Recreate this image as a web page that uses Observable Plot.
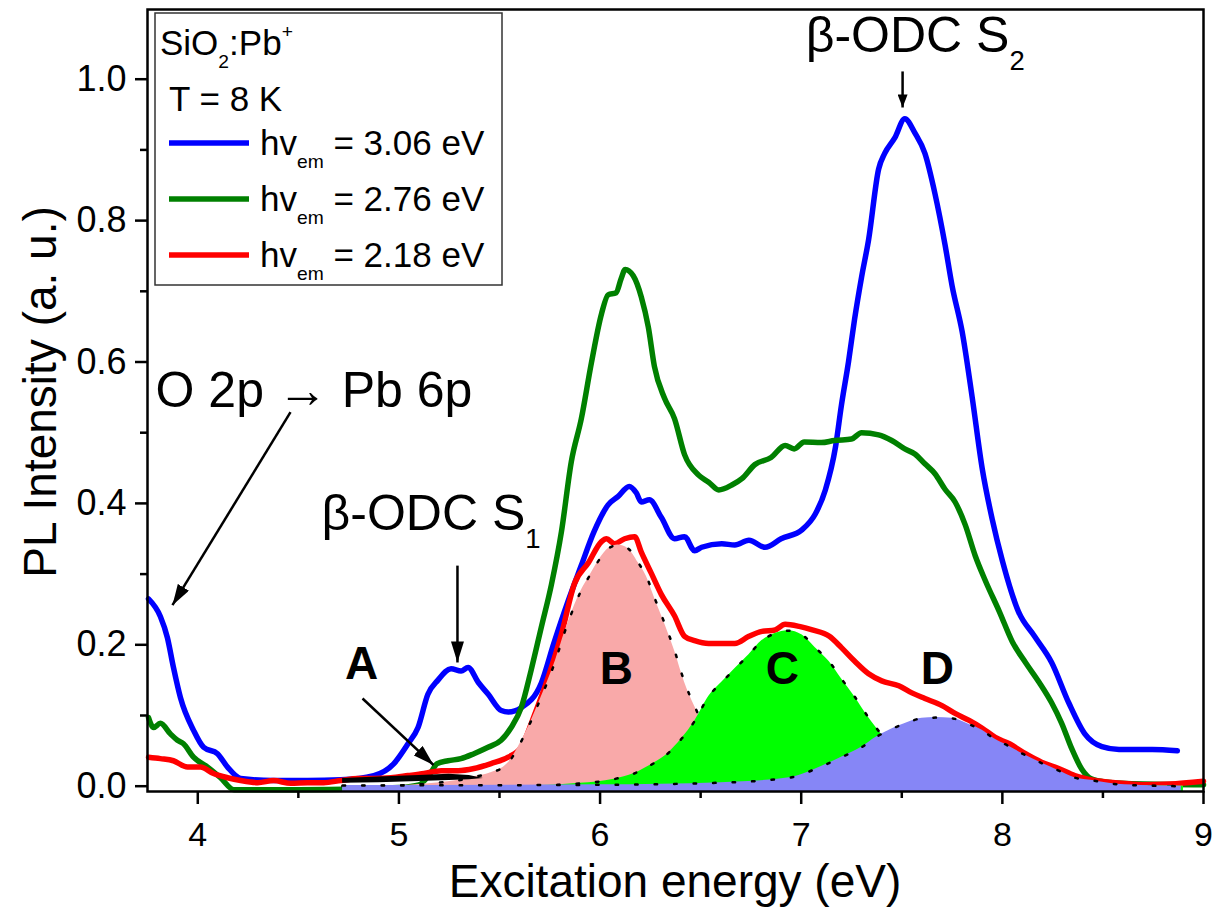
<!DOCTYPE html>
<html><head><meta charset="utf-8">
<script src="https://cdn.jsdelivr.net/npm/d3@7"></script>
<script src="https://cdn.jsdelivr.net/npm/@observablehq/plot@0.6"></script>
<style>
body{margin:0;background:#fff;}
#chart{width:1226px;height:915px;}
</style></head><body><div id="chart"></div>
<script>
// ---------- data ----------
const blueE=[3.755,3.814,3.849,3.879,3.914,3.979,4.029,4.098,4.148,4.213,4.377,4.546,4.711,4.875,4.975,5.045,5.095,5.144,5.194,5.259,5.309,5.344,5.394,5.444,5.509,5.544,5.608,5.708,5.77,5.84,5.905,5.97,6.04,6.09,6.145,6.18,6.205,6.245,6.305,6.37,6.42,6.47,6.505,6.605,6.67,6.74,6.82,6.90,7.005,7.07,7.12,7.17,7.20,7.235,7.265,7.30,7.335,7.385,7.415,7.465,7.515,7.565,7.615,7.665,7.715,7.75,7.80,7.85,7.90,7.95,8.0,8.08,8.16,8.245,8.33,8.41,8.495,8.58,8.745,8.87];
const blueI=[0.265,0.240,0.210,0.168,0.125,0.079,0.055,0.046,0.027,0.011,0.008,0.008,0.009,0.015,0.032,0.060,0.083,0.130,0.150,0.166,0.163,0.168,0.147,0.130,0.107,0.105,0.111,0.146,0.202,0.261,0.311,0.360,0.398,0.410,0.424,0.415,0.402,0.405,0.380,0.350,0.353,0.333,0.338,0.343,0.341,0.348,0.338,0.350,0.363,0.385,0.419,0.479,0.539,0.600,0.660,0.720,0.773,0.873,0.895,0.917,0.944,0.924,0.895,0.838,0.766,0.708,0.643,0.550,0.449,0.377,0.319,0.247,0.212,0.175,0.118,0.074,0.056,0.052,0.052,0.050];

const greenE=[3.755,3.78,3.814,3.864,3.899,3.929,3.979,4.049,4.113,4.18,4.3,4.5,4.8,5.0,5.1,5.16,5.19,5.244,5.308,5.373,5.443,5.508,5.558,5.608,5.658,5.708,5.758,5.808,5.857,5.907,5.957,6.007,6.04,6.08,6.105,6.125,6.165,6.205,6.24,6.27,6.32,6.37,6.42,6.49,6.54,6.59,6.655,6.705,6.77,6.85,6.92,6.965,7.015,7.10,7.165,7.25,7.30,7.385,7.45,7.515,7.565,7.615,7.665,7.715,7.765,7.815,7.865,7.915,7.985,8.05,8.115,8.185,8.245,8.295,8.345,8.395,8.445,8.51,8.7,9.0];
const greenI=[0.097,0.083,0.089,0.074,0.065,0.060,0.041,0.027,0.012,-0.005,-0.005,-0.005,-0.004,-0.002,0.002,0.020,0.032,0.036,0.039,0.046,0.055,0.065,0.083,0.111,0.165,0.225,0.285,0.360,0.459,0.520,0.599,0.668,0.695,0.698,0.718,0.731,0.722,0.692,0.649,0.594,0.549,0.520,0.469,0.440,0.430,0.419,0.426,0.435,0.455,0.465,0.482,0.477,0.487,0.486,0.489,0.491,0.500,0.497,0.489,0.477,0.470,0.456,0.442,0.420,0.402,0.370,0.326,0.291,0.247,0.204,0.175,0.146,0.118,0.089,0.053,0.024,0.010,0.006,0.003,0.002];

const redE=[3.755,3.814,3.879,3.949,4.013,4.078,4.148,4.213,4.298,4.377,4.462,4.546,4.626,4.711,4.795,4.875,4.96,5.045,5.125,5.21,5.294,5.373,5.458,5.543,5.608,5.673,5.743,5.808,5.872,5.942,6.007,6.032,6.072,6.122,6.172,6.205,6.255,6.305,6.37,6.42,6.47,6.54,6.605,6.67,6.74,6.805,6.87,6.92,6.99,7.055,7.14,7.20,7.265,7.335,7.40,7.485,7.55,7.615,7.70,7.765,7.835,7.90,7.965,8.035,8.115,8.195,8.28,8.36,8.46,8.56,8.695,8.83,9.0];
const redI=[0.041,0.039,0.036,0.027,0.027,0.018,0.012,0.008,0.005,0.008,0.004,0.005,0.005,0.008,0.011,0.011,0.012,0.015,0.018,0.022,0.022,0.025,0.032,0.041,0.055,0.100,0.155,0.215,0.286,0.316,0.346,0.350,0.343,0.350,0.353,0.331,0.301,0.271,0.241,0.212,0.206,0.202,0.202,0.202,0.212,0.219,0.221,0.229,0.226,0.221,0.212,0.196,0.177,0.159,0.149,0.142,0.132,0.124,0.114,0.103,0.093,0.082,0.069,0.060,0.046,0.034,0.025,0.015,0.008,0.005,0.002,0.003,0.007];

// fitted components (read from the shaded areas)
const compAE=[4.72,4.9,5.1,5.25,5.35,5.42];
const compALo=[0.004,0.005,0.0065,0.008,0.009,0.011];
const compAHi=[0.011,0.013,0.015,0.017,0.015,0.011];
const compBE=[4.72,5.0,5.2,5.29,5.37,5.457,5.54,5.62,5.706,5.77,5.84,5.905,5.955,5.995,6.045,6.09,6.14,6.19,6.23,6.27,6.32,6.37,6.42,6.47,6.54,6.62,6.72,6.85,7.0,8.9];
const compBI=[0.0,0.001,0.005,0.008,0.013,0.019,0.032,0.070,0.125,0.171,0.231,0.276,0.301,0.320,0.337,0.341,0.336,0.316,0.297,0.267,0.231,0.192,0.147,0.113,0.073,0.040,0.017,0.005,0.001,0.0];
const compCE=[4.72,5.7,5.9,6.07,6.17,6.27,6.34,6.405,6.47,6.54,6.605,6.67,6.74,6.805,6.87,6.935,7.005,7.07,7.14,7.20,7.265,7.335,7.40,7.46,7.55,7.65,7.8,8.0,8.9];
const compCI=[0.0,0.001,0.004,0.010,0.018,0.033,0.047,0.067,0.092,0.127,0.147,0.166,0.186,0.206,0.216,0.220,0.214,0.196,0.176,0.152,0.127,0.097,0.073,0.055,0.035,0.020,0.007,0.002,0.0];
const compDE=[4.72,6.0,6.60,6.94,7.10,7.20,7.30,7.37,7.45,7.51,7.60,7.67,7.75,7.83,7.90,7.96,8.03,8.10,8.20,8.28,8.36,8.45,8.53,8.69,8.89];
const compDI=[0.001,0.002,0.005,0.012,0.028,0.041,0.055,0.069,0.081,0.088,0.096,0.097,0.096,0.088,0.079,0.067,0.057,0.046,0.032,0.022,0.012,0.008,0.004,0.001,0.0];

const seriesNames=["hv_{em} = 3.06 eV","hv_{em} = 2.76 eV","hv_{em} = 2.18 eV"];
const xTicks=[4,5,6,7,8,9];
const xMinor=[4.5,5.5,6.5,7.5,8.5];
const yTicks=[0,0.2,0.4,0.6,0.8,1.0];
const yMinor=[0.1,0.3,0.5,0.7,0.9];

const bigLabels=[
  {label:"O 2p \u2192 Pb 6p", e:3.79, v:0.537},
  {label:"\u03b2-ODC S_{1}", e:4.615, v:0.362},
  {label:"\u03b2-ODC S_{2}", e:7.022, v:1.039}
];
const peakLabels=[
  {label:"A", e:4.814, v:0.152},
  {label:"B", e:6.081, v:0.145},
  {label:"C", e:6.906, v:0.145},
  {label:"D", e:7.677, v:0.145}
];
const arrowsLong=[
  {e1:4.461, v1:0.529, e2:3.874, v2:0.256},
  {e1:5.291, v1:0.312, e2:5.291, v2:0.175},
  {e1:4.819, v1:0.124, e2:5.172, v2:0.030}
];
const arrowsShort=[{e1:7.504, v1:1.011, e2:7.504, v2:0.960}];

// ---------- build ----------
const FONT='"Liberation Sans", Arial, Helvetica, sans-serif';
const yMin=-0.0075, yMax=1.0986;
const rows=(E,I)=>E.map((e,i)=>({e, v:I[i], base:yMin}));
const blue=rows(blueE,blueI), green=rows(greenE,greenI), red=rows(redE,redI);
const cB=rows(compBE,compBI), cC=rows(compCE,compCI), cD=rows(compDE,compDI);
const cA=compAE.map((e,i)=>({e, lo:compALo[i], hi:compAHi[i]}));
const colors=["#0000ff","#008000","#ff0000"];
const LW=5.5;
const dots={stroke:"black",strokeWidth:2.5,strokeDasharray:"2.5,17",curve:"monotone-x"};

const svg=Plot.plot({
  width:1226, height:915,
  marginLeft:147, marginRight:23, marginTop:9, marginBottom:124,
  style:{fontFamily:FONT, background:"white", color:"black"},
  x:{domain:[3.75,9], label:null},
  y:{domain:[yMin,yMax], label:null},
  marks:[
    Plot.lineY(blue,{x:"e",y:"v",stroke:colors[0],strokeWidth:LW,curve:"monotone-x"}),
    Plot.lineY(green,{x:"e",y:"v",stroke:colors[1],strokeWidth:LW,curve:"monotone-x"}),
    Plot.lineY(red,{x:"e",y:"v",stroke:colors[2],strokeWidth:LW,curve:"monotone-x"}),
    Plot.areaY(cB,{x:"e",y1:"base",y2:"v",fill:"#f9a9a9",curve:"monotone-x"}),
    Plot.lineY(cB,{x:"e",y:"v",...dots}),
    Plot.areaY(cC,{x:"e",y1:"base",y2:"v",fill:"#00ff00",curve:"monotone-x"}),
    Plot.lineY(cC,{x:"e",y:"v",...dots}),
    Plot.areaY(cD,{x:"e",y1:"base",y2:"v",fill:"#8686f6",curve:"monotone-x"}),
    Plot.lineY(cD,{x:"e",y:"v",...dots}),
    Plot.areaY(cA,{x:"e",y1:"lo",y2:"hi",fill:"black"}),
    Plot.text(bigLabels,{x:"e",y:"v",text:"label",textAnchor:"start",lineAnchor:"bottom",fontSize:50,fill:"black"}),
    Plot.text(peakLabels,{x:"e",y:"v",text:"label",textAnchor:"middle",lineAnchor:"bottom",fontSize:46,fontWeight:"bold",fill:"black"}),
    Plot.link(arrowsLong,{x1:"e1",y1:"v1",x2:"e2",y2:"v2",stroke:"black",strokeWidth:2.5}),
    Plot.link(arrowsShort,{x1:"e1",y1:"v1",x2:"e2",y2:"v2",stroke:"black",strokeWidth:2.5}),
    Plot.frame({stroke:"black",strokeWidth:2.5}),
    Plot.axisX({ticks:xTicks,tickSize:13,tickPadding:17,fontSize:34,tickFormat:d=>String(d),strokeWidth:2.5,label:null}),
    Plot.axisX({ticks:xMinor,tickSize:7,tickFormat:()=>"",strokeWidth:2.5,label:null}),
    Plot.axisY({ticks:yTicks,tickSize:12,tickPadding:9,fontSize:36,tickFormat:d3.format(".1f"),strokeWidth:2.5,label:null}),
    Plot.axisY({ticks:yMinor,tickSize:7,tickFormat:()=>"",strokeWidth:2.5,label:null})
  ]
});

const NS="http://www.w3.org/2000/svg";
function richify(el,size){
  const s=el.textContent;
  if(!/[_^]\{/.test(s)) return;
  if(!size){
    let n=el; while(n && !(n.getAttribute && n.getAttribute("font-size"))) n=n.parentNode;
    size=n?parseFloat(n.getAttribute("font-size")):16;
  }
  while(el.firstChild) el.removeChild(el.firstChild);
  const re=/([_^])\{([^}]*)\}/g; let last=0,m,shift=0;
  const add=(txt,kind)=>{
    if(!txt) return;
    const t=document.createElementNS(NS,"tspan");
    let target=0, fs=size;
    if(kind==="_"){target=0.36*size; fs=0.55*size;}
    if(kind==="^"){target=-0.5*size; fs=0.55*size;}
    t.setAttribute("dy",target-shift); shift=target;
    t.setAttribute("font-size",fs);
    t.textContent=txt; el.appendChild(t);
  };
  while((m=re.exec(s))){add(s.slice(last,m.index),""); add(m[2],m[1]); last=re.lastIndex;}
  add(s.slice(last),"");
}
const root=d3.select(svg);
root.selectAll("text").each(function(){richify(this);});

// arrow heads
const defs=root.insert("defs",":first-child");
function marker(id,len,wid){
  defs.append("marker").attr("id",id).attr("viewBox",`0 0 ${len} ${wid}`)
    .attr("refX",len).attr("refY",wid/2).attr("markerWidth",len).attr("markerHeight",wid)
    .attr("markerUnits","userSpaceOnUse").attr("orient","auto")
    .append("path").attr("d",`M0,0L${len},${wid/2}L0,${wid}Z`).attr("fill","black");
}
marker("ahL",21,13); marker("ahS",13,10);
const linkGroups=root.selectAll('g[aria-label="link"]').nodes();
if(linkGroups[0]) d3.select(linkGroups[0]).selectAll("path,line").attr("marker-end","url(#ahL)");
if(linkGroups[1]) d3.select(linkGroups[1]).selectAll("path,line").attr("marker-end","url(#ahS)");

// axis titles
root.append("text").attr("x",675).attr("y",897).attr("text-anchor","middle")
  .attr("font-size",46).attr("font-family",FONT).text("Excitation energy (eV)");
root.append("text").attr("transform","translate(56,392) rotate(-90)").attr("text-anchor","middle")
  .attr("font-size",46).attr("font-family",FONT).text("PL Intensity (a. u.)");

// legend box
const L=root.append("g").attr("font-family",FONT).attr("font-size",35).attr("text-anchor","start");
L.append("rect").attr("x",155).attr("y",13).attr("width",347).attr("height",272)
  .attr("fill","white").attr("stroke","#333").attr("stroke-width",1.5);
const t1=L.append("text").attr("x",160).attr("y",55).attr("text-anchor","start").text("SiO_{2}:Pb^{+}"); richify(t1.node(),35);
L.append("text").attr("x",169).attr("y",111).attr("text-anchor","start").text("T = 8 K");
seriesNames.forEach((name,i)=>{
  const yy=143+56*i;
  L.append("line").attr("x1",169).attr("x2",249).attr("y1",yy).attr("y2",yy)
    .attr("stroke",colors[i]).attr("stroke-width",LW);
  const t=L.append("text").attr("x",260).attr("y",yy+12).attr("text-anchor","start").text(name); richify(t.node(),35);
});

document.getElementById("chart").appendChild(svg);
</script></body></html>
